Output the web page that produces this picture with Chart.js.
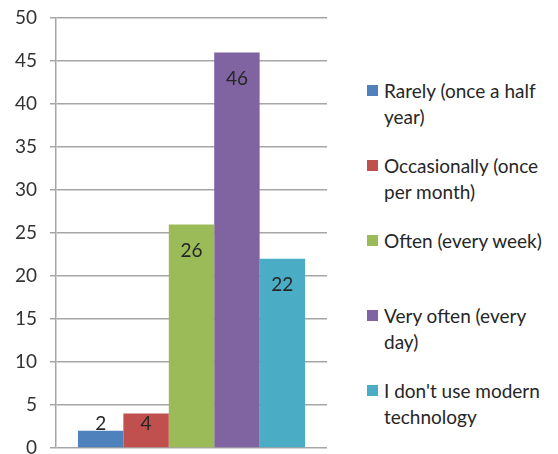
<!DOCTYPE html>
<html>
<head>
<meta charset="utf-8">
<title>Technology use frequency</title>
<script src="https://cdn.jsdelivr.net/npm/chart.js@4.4.0/dist/chart.umd.min.js"></script>
<style>
    html, body { margin: 0; padding: 0; background: #fff; overflow: hidden; }
    body { width: 558px; height: 454px; position: relative; font-family: Lato, sans-serif; }
    .chart-box { position: absolute; left: 0; top: 0; width: 340px; height: 470px; }
    .legend { position: absolute; left: 367px; top: 0; width: 191px; color: #262626; font-size: 19px; line-height: 26px; }
    .legend-item { position: absolute; left: 0; width: 186px; }
    .legend-item .swatch { position: absolute; left: 0; top: 7px; width: 11px; height: 11px; }
    .legend-item .text { margin-left: 17px; }
</style>
</head>
<body>
<div class="chart-box"><canvas id="freqChart"></canvas></div>
<div class="legend" id="freqLegend"></div>
<script>
    const categories = [
        'Rarely (once a half year)',
        'Occasionally (once per month)',
        'Often (every week)',
        'Very often (every day)',
        "I don't use modern technology"
    ];
    const responses = [2, 4, 26, 46, 22];
    const barColors = ['#4F81BD', '#C0504D', '#9BBB59', '#8064A2', '#4BACC6'];
    const yTicks = [0, 5, 10, 15, 20, 25, 30, 35, 40, 45, 50];

    const gridGray = '#a6a6a6';
    const textColor = '#262626';

    // value labels sit inside the top of each bar, but never below the baseline area
    const valueLabels = {
        id: 'valueLabels',
        afterDatasetsDraw(chart) {
            const ctx = chart.ctx;
            ctx.save();
            ctx.font = '19px Lato, sans-serif';
            ctx.fillStyle = textColor;
            ctx.textAlign = 'center';
            ctx.textBaseline = 'middle';
            chart.data.datasets.forEach((ds, i) => {
                const bar = chart.getDatasetMeta(i).data[0];
                const y = Math.min(bar.y + 26, bar.base - 23);
                ctx.fillText(String(ds.data[0]), bar.x, y);
            });
            ctx.restore();
        }
    };

    new Chart(document.getElementById('freqChart'), {
        type: 'bar',
        data: {
            labels: [''],
            datasets: categories.map((name, i) => ({
                label: name,
                data: [responses[i]],
                backgroundColor: barColors[i],
                borderWidth: 0,
                categoryPercentage: 0.838,
                barPercentage: 1
            }))
        },
        options: {
            responsive: true,
            maintainAspectRatio: false,
            animation: false,
            layout: { padding: { top: 18, right: 13, bottom: 22, left: 0 } },
            plugins: {
                legend: { display: false },
                tooltip: { enabled: false }
            },
            scales: {
                x: { display: false },
                y: {
                    min: yTicks[0],
                    max: yTicks[yTicks.length - 1],
                    afterBuildTicks(scale) {
                        scale.ticks = yTicks.map(v => ({ value: v }));
                    },
                    afterFit(scale) {
                        // fixed axis width, and no extra room for the end labels
                        scale.width = 56;
                        scale.paddingTop = 0;
                        scale.paddingBottom = 0;
                    },
                    ticks: {
                        color: '#333333',
                        font: { family: 'Lato, sans-serif', size: 19 },
                        padding: 13
                    },
                    grid: { color: gridGray, lineWidth: 1.5, tickLength: 6 },
                    border: { color: gridGray, width: 1.5 }
                }
            }
        },
        plugins: [valueLabels]
    });

    // legend on the right, one block per category
    const legend = document.getElementById('freqLegend');
    categories.forEach((name, i) => {
        const item = document.createElement('div');
        item.className = 'legend-item';
        item.style.top = (78 + i * 75) + 'px';
        item.innerHTML = '<span class="swatch" style="background:' + barColors[i] + '"></span>' +
            '<div class="text">' + name + '</div>';
        legend.appendChild(item);
    });
</script>
</body>
</html>
